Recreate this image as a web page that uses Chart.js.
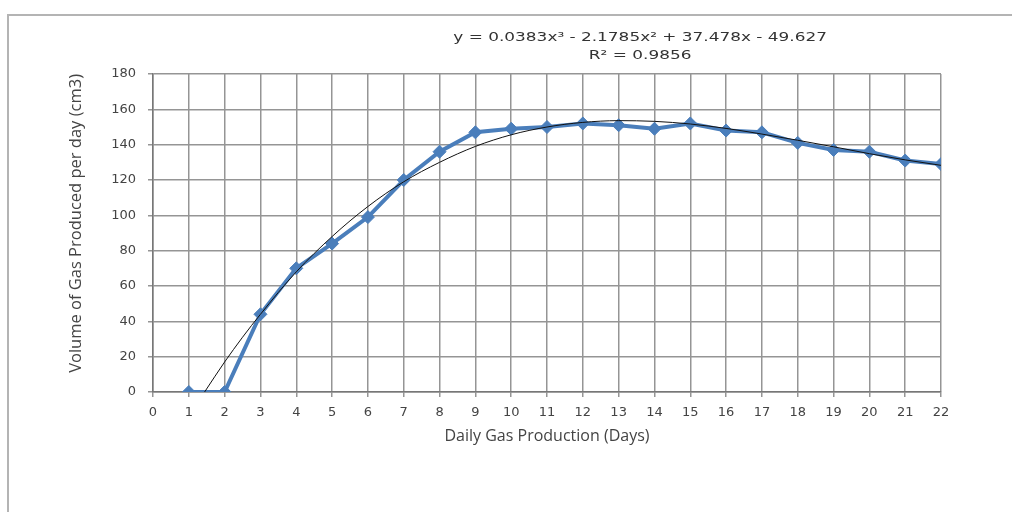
<!DOCTYPE html>
<html>
<head>
<meta charset="utf-8">
<script src="https://cdn.jsdelivr.net/npm/chart.js@4"></script>
<style>
  body { margin: 0; background: #fff; }
  #wrap { position: relative; width: 1012px; height: 512px; overflow: hidden; }
  #frame { position: absolute; left: 7px; top: 14px; width: 1100px; height: 600px;
           border-top: 2px solid #b4b4b4; border-left: 2px solid #b4b4b4; }
  canvas { position: absolute; left: 0; top: 0; }
</style>
</head>
<body>
<div id="wrap">
  <div id="frame"></div>
  <canvas id="chart" width="1012" height="512"></canvas>
</div>
<script>
// measured gas volume per day
const days = [1, 2, 3, 4, 5, 6, 7, 8, 9, 10, 11, 12, 13, 14, 15, 16, 17, 18, 19, 20, 21, 22];
const volume = [0, 0, 44, 70, 84, 99, 120, 136, 147, 149, 150, 152, 151, 149, 152, 148, 147, 141, 137, 136, 131, 129];

// poly trendline
const trendX = [1.44, 2, 2.5, 3, 4, 5, 6, 7, 8, 9, 10, 11, 12, 13, 14, 15, 16, 17, 18, 19, 20, 21, 22];
const trendY = [0, 17, 31, 44, 68, 88, 105, 119, 130, 139, 145.6, 150, 152.6, 153.6, 153.2, 151.7, 149.2, 146, 142.5, 138.8, 134.9, 131.4, 128.3];

const equationText = ['y = 0.0383x³ - 2.1785x² + 37.478x - 49.627', 'R² = 0.9856'];

const gridColor = '#959595';
const blue = '#4a7ebb';

const equationPlugin = {
    id: 'equation',
    afterDraw(chart) {
        const ctx = chart.ctx;
        const x = chart.scales.x.getPixelForValue(13.6);
        ctx.save();
        ctx.fillStyle = '#333';
        ctx.font = '13px "DejaVu Sans"';
        ctx.textAlign = 'center';
        ctx.textBaseline = 'middle';
        // text in the picture is stretched wide
        ctx.translate(x, 0);
        ctx.scale(1.3, 1);
        ctx.fillText(equationText[0], 0, 38);
        ctx.fillText(equationText[1], 0, 56);
        ctx.restore();
    }
};

new Chart(document.getElementById('chart').getContext('2d'), {
    type: 'scatter',
    data: {
        datasets: [{
            label: 'trend',
            data: trendX.map((x, i) => ({ x: x, y: trendY[i] })),
            showLine: true,
            borderColor: '#111',
            borderWidth: 1,
            pointRadius: 0,
            cubicInterpolationMode: 'monotone',
            order: 0
        }, {
            label: 'volume',
            data: days.map((d, i) => ({ x: d, y: volume[i] })),
            showLine: true,
            borderColor: blue,
            backgroundColor: blue,
            borderWidth: 4,
            pointStyle: 'rectRot',
            pointRadius: 6.5,
            pointBorderWidth: 1,
            tension: 0,
            order: 1
        }]
    },
    options: {
        responsive: false,
        animation: false,
        layout: { padding: { left: 62, right: 71, top: 74, bottom: 62 } },
        plugins: { legend: { display: false }, tooltip: { enabled: false } },
        scales: {
            x: {
                type: 'linear', min: 0, max: 22,
                afterFit: s => { s.height = 58; },
                ticks: { stepSize: 1, color: '#444', font: { family: 'DejaVu Sans', size: 13 }, padding: 8 },
                grid: { color: gridColor, lineWidth: 1.5, tickLength: 5 },
                border: { color: '#777', width: 1.5 },
                title: { display: true, text: 'Daily Gas Production (Days)', color: '#444',
                         font: { family: 'Open Sans', size: 16 }, padding: { top: 0 } }
            },
            y: {
                min: 0, max: 180,
                afterFit: s => { s.width = 91; },
                ticks: { stepSize: 20, color: '#444', font: { family: 'DejaVu Sans', size: 13 }, padding: 12 },
                grid: { color: gridColor, lineWidth: 1.5, tickLength: 5 },
                border: { color: '#777', width: 1.5 },
                title: { display: true, text: 'Volume of Gas Produced per day (cm3)', color: '#444', align: 'end',
                         font: { family: 'Open Sans', size: 16.5 }, padding: { bottom: 0 } }
            }
        }
    },
    plugins: [equationPlugin]
});
</script>
</body>
</html>
